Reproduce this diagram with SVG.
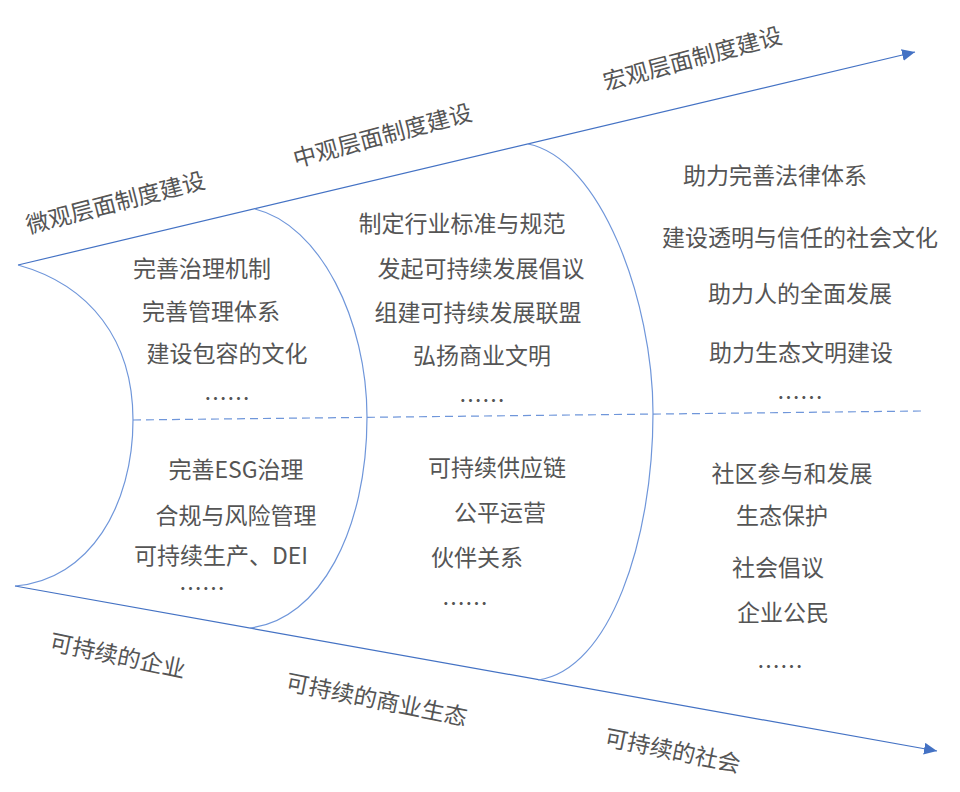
<svg xmlns="http://www.w3.org/2000/svg" width="960" height="792" viewBox="0 0 960 792">
<style>
  text { font-family: "Noto Sans CJK SC", "Microsoft YaHei", sans-serif; font-size: 23px; fill: #555555; text-anchor: middle; dominant-baseline: central; }
  .axis { stroke: #4472C4; stroke-width: 1.2; fill: none; }
  .curve { stroke: #6F96DA; stroke-width: 1.2; fill: none; }
  .dash { stroke: #6F96DA; stroke-width: 1.2; fill: none; stroke-dasharray: 8 5; }
</style>
<defs>
  <marker id="arrow" markerUnits="userSpaceOnUse" markerWidth="14" markerHeight="12" refX="13" refY="6" orient="auto">
    <path d="M0,0 L13,6 L0,12 Z" fill="#4472C4"/>
  </marker>
</defs>
<rect width="960" height="792" fill="#ffffff"/>
<g id="connectors">
  <path class="axis" d="M18,265 L915,52" marker-end="url(#arrow)"/>
  <path class="axis" d="M15,586 L937,751" marker-end="url(#arrow)"/>
  <path class="curve" d="M18,265 C90,285 133,340 133,420 C133,505 90,580 15,586"/>
  <path class="curve" d="M255,209 C320,225 367,320 367,417 C367,530 320,620 250,628"/>
  <path class="curve" d="M528,144 C600,158 653,300 653,413 C653,540 610,670 538,680"/>
  <path class="dash" d="M133,420 L923,411"/>
</g>
<g id="axis-labels">
  <text transform="translate(115,201) rotate(-14.5)">微观层面制度建设</text>
  <text transform="translate(382,134) rotate(-15)">中观层面制度建设</text>
  <text transform="translate(692,57) rotate(-15)">宏观层面制度建设</text>
  <text transform="translate(118,654) rotate(12)">可持续的企业</text>
  <text transform="translate(377,698) rotate(11.3)">可持续的商业生态</text>
  <text transform="translate(673,749) rotate(11.6)">可持续的社会</text>
</g>
<g id="micro">
  <text x="202" y="267">完善治理机制</text>
  <text x="211" y="310">完善管理体系</text>
  <text x="227" y="352">建设包容的文化</text>
  <text x="227" y="397">……</text>
  <text x="236" y="468">完善ESG治理</text>
  <text x="236" y="514">合规与风险管理</text>
  <text x="221" y="554">可持续生产、DEI</text>
  <text x="202" y="587">……</text>
</g>
<g id="meso">
  <text x="462" y="222">制定行业标准与规范</text>
  <text x="481" y="267">发起可持续发展倡议</text>
  <text x="478" y="311">组建可持续发展联盟</text>
  <text x="482" y="354">弘扬商业文明</text>
  <text x="482" y="399">……</text>
  <text x="497" y="466">可持续供应链</text>
  <text x="500" y="511">公平运营</text>
  <text x="477" y="556">伙伴关系</text>
  <text x="465" y="602">……</text>
</g>
<g id="macro">
  <text x="775" y="174">助力完善法律体系</text>
  <text x="800" y="236">建设透明与信任的社会文化</text>
  <text x="800" y="292">助力人的全面发展</text>
  <text x="801" y="351">助力生态文明建设</text>
  <text x="800" y="396">……</text>
  <text x="792" y="472">社区参与和发展</text>
  <text x="782" y="514">生态保护</text>
  <text x="778" y="566">社会倡议</text>
  <text x="783" y="611">企业公民</text>
  <text x="780" y="665">……</text>
</g>
</svg>
